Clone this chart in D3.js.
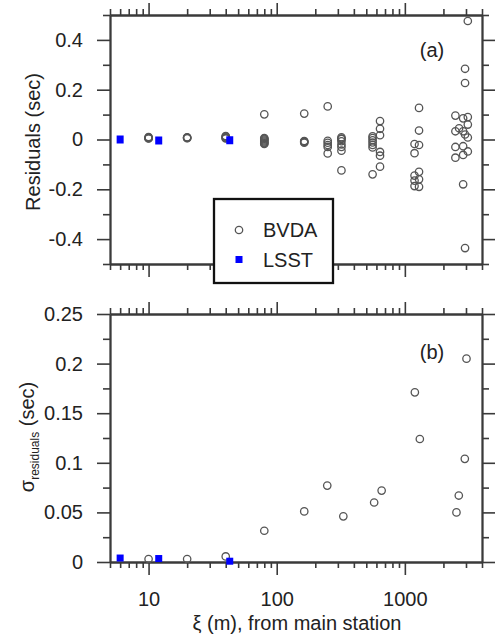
<!DOCTYPE html>
<html>
<head>
<meta charset="utf-8">
<script src="https://cdn.jsdelivr.net/npm/d3@7/dist/d3.min.js"></script>
<style>
  html, body { margin: 0; padding: 0; background: #fff; }
  svg { display: block; }
  text { font-family: "Liberation Sans", Arial, sans-serif; fill: #222; }
</style>
</head>
<body>
<svg id="chart" width="504" height="638"></svg>
<script>
// ---------- DATA ----------
// Panel (a): residuals grouped by station distance (m)
const resStations = [10, 20, 40, 80, 164, 250, 320, 560, 640, 1190, 1290, 2480, 2650, 2850, 2950, 3100];
const resValues = [
  [0.010, 0.008, 0.006, 0.005, 0.004],
  [0.009, 0.008, 0.006, 0.005],
  [0.014, 0.012, 0.009, 0.006, 0.004],
  [0.101, 0.006, 0.003, 0.0, -0.004, -0.008, -0.012, -0.015, -0.018],
  [0.104, -0.006, -0.008, -0.010, -0.013],
  [0.133, -0.005, -0.013, -0.022, -0.030, -0.056],
  [0.009, 0.004, 0.002, -0.007, -0.020, -0.030, -0.045, -0.124],
  [0.013, 0.006, -0.003, -0.012, -0.022, -0.032, -0.140],
  [0.074, 0.043, 0.017, -0.050, -0.065, -0.109],
  [-0.018, -0.055, -0.145, -0.165, -0.187],
  [0.127, 0.036, -0.022, -0.130, -0.160, -0.190],
  [0.096, 0.033, -0.030, -0.073],
  [0.045],
  [0.085, 0.033, -0.027, -0.062, -0.180],
  [0.020, 0.284, 0.227, -0.436],
  [0.476, 0.090, 0.060, 0.008, -0.048]
];
const lsstResDist = [6, 12, 43];
const lsstResValues = [0.0, -0.004, -0.003];

// Panel (b): standard deviation of residuals
const bvdaSigmaDist = [10, 20, 40, 80, 164, 248, 331, 576, 659, 1197, 1309, 2528, 2636, 2937, 3027];
const bvdaSigma = [0.003, 0.003, 0.0056, 0.0315, 0.051, 0.077, 0.046, 0.060, 0.072, 0.171, 0.124, 0.050, 0.067, 0.104, 0.205];
const lsstSigmaDist = [6, 12, 43];
const lsstSigma = [0.004, 0.0035, 0.0008];

// Axis ticks
const xMajor = [10, 100, 1000];
const xMajorLabels = ["10", "100", "1000"];
const xMinor = [5, 6, 7, 8, 9, 20, 30, 40, 50, 60, 70, 80, 90, 200, 300, 400, 500, 600, 700, 800, 900, 2000, 3000, 4000];
const yMajorA = [-0.4, -0.2, 0, 0.2, 0.4];
const yMajorLabelsA = ["-0.4", "-0.2", "0", "0.2", "0.4"];
const yMinorA = [-0.5, -0.3, -0.1, 0.1, 0.3, 0.5];
const yMajorB = [0, 0.05, 0.1, 0.15, 0.2, 0.25];
const yMajorLabelsB = ["0", "0.05", "0.1", "0.15", "0.2", "0.25"];
const yMinorB = [0.025, 0.075, 0.125, 0.175, 0.225];

const legendNames = ["BVDA", "LSST"];

// ---------- LAYOUT ----------
const svg = d3.select("#chart");
const axisColor = "#3a3a3a";
const circleColor = "#555";
const blue = "#0000ff";

const x = d3.scaleLog().domain([5, 4000]).range([110, 482]);
const yA = d3.scaleLinear().domain([-0.5, 0.5]).range([264, 15]);
const yB = d3.scaleLinear().domain([0, 0.25]).range([562, 314]);

function styleAxis(g) {
  g.selectAll("path.domain").attr("stroke", axisColor).attr("stroke-width", 1.8);
  g.selectAll(".tick line").attr("stroke", axisColor).attr("stroke-width", 1.6);
  g.selectAll("text").attr("font-size", 20).attr("fill", "#222")
    .attr("font-family", '"Liberation Sans", Arial, sans-serif');
}

function drawFrame(y, yMajor, yMajorLabels, yMinor, withXLabels) {
  const [y0, y1] = y.range(); // bottom, top
  const gx = svg.append("g");
  // top axis
  gx.append("g").attr("transform", `translate(0,${y1})`)
    .call(d3.axisTop(x).tickValues(xMinor).tickSize(6).tickSizeOuter(0).tickFormat(""))
    .call(styleAxis);
  gx.append("g").attr("transform", `translate(0,${y1})`)
    .call(d3.axisTop(x).tickValues(xMajor).tickSize(12).tickSizeOuter(0).tickFormat(""))
    .call(styleAxis);
  // bottom axis
  gx.append("g").attr("transform", `translate(0,${y0})`)
    .call(d3.axisBottom(x).tickValues(xMinor).tickSize(6).tickSizeOuter(0).tickFormat(""))
    .call(styleAxis);
  gx.append("g").attr("transform", `translate(0,${y0})`)
    .call(d3.axisBottom(x).tickValues(xMajor).tickSize(13).tickSizeOuter(0).tickPadding(17)
      .tickFormat(withXLabels ? (d, i) => xMajorLabels[i] : ""))
    .call(styleAxis);
  const [xl, xr] = x.range();
  // left axis
  gx.append("g").attr("transform", `translate(${xl},0)`)
    .call(d3.axisLeft(y).tickValues(yMinor).tickSize(7).tickSizeOuter(0).tickFormat(""))
    .call(styleAxis);
  gx.append("g").attr("transform", `translate(${xl},0)`)
    .call(d3.axisLeft(y).tickValues(yMajor).tickSize(13).tickSizeOuter(0).tickPadding(14)
      .tickFormat((d, i) => yMajorLabels[i]))
    .call(styleAxis);
  // right axis
  gx.append("g").attr("transform", `translate(${xr},0)`)
    .call(d3.axisRight(y).tickValues(yMinor).tickSize(7).tickSizeOuter(0).tickFormat(""))
    .call(styleAxis);
  gx.append("g").attr("transform", `translate(${xr},0)`)
    .call(d3.axisRight(y).tickValues(yMajor).tickSize(13).tickSizeOuter(0).tickFormat(""))
    .call(styleAxis);
}

drawFrame(yA, yMajorA, yMajorLabelsA, yMinorA, false);
drawFrame(yB, yMajorB, yMajorLabelsB, yMinorB, true);

const R = 3.7, SQ = 7;

// ---------- PANEL (a) points ----------
const resPoints = [];
resStations.forEach((d, i) => resValues[i].forEach(v => resPoints.push({ d, v })));
svg.append("g").selectAll("circle").data(resPoints).join("circle")
  .attr("cx", p => x(p.d)).attr("cy", p => yA(p.v)).attr("r", R)
  .attr("fill", "none").attr("stroke", circleColor).attr("stroke-width", 1.3);
svg.append("g").selectAll("rect").data(lsstResDist).join("rect")
  .attr("x", (d) => x(d) - SQ / 2).attr("y", (d, i) => yA(lsstResValues[i]) - 4)
  .attr("width", SQ).attr("height", 8).attr("fill", blue);

// ---------- PANEL (b) points ----------
svg.append("g").selectAll("circle").data(bvdaSigmaDist).join("circle")
  .attr("cx", d => x(d)).attr("cy", (d, i) => yB(bvdaSigma[i])).attr("r", R)
  .attr("fill", "none").attr("stroke", circleColor).attr("stroke-width", 1.3);
svg.append("g").selectAll("rect").data(lsstSigmaDist).join("rect")
  .attr("x", d => x(d) - SQ / 2).attr("y", (d, i) => yB(lsstSigma[i]) - SQ / 2)
  .attr("width", SQ).attr("height", SQ).attr("fill", blue);

// ---------- Labels ----------
svg.append("text").attr("x", 432).attr("y", 57).attr("text-anchor", "middle")
  .attr("font-size", 20).text("(a)");
svg.append("text").attr("x", 432).attr("y", 359).attr("text-anchor", "middle")
  .attr("font-size", 20).text("(b)");

svg.append("text").attr("transform", "translate(40,142) rotate(-90)")
  .attr("text-anchor", "middle").attr("font-size", 20).text("Residuals (sec)");

const sl = svg.append("text").attr("transform", "translate(34,437) rotate(-90)")
  .attr("text-anchor", "middle").attr("font-size", 20);
sl.append("tspan").text("σ");
sl.append("tspan").attr("font-size", 12).attr("dy", 4.5).text("residuals");
sl.append("tspan").attr("dy", -4.5).text(" (sec)");

svg.append("text").attr("x", 297).attr("y", 630).attr("text-anchor", "middle")
  .attr("font-size", 20).text("ξ (m), from main station");

// ---------- Legend ----------
const lg = svg.append("g");
lg.append("rect").attr("x", 214).attr("y", 199).attr("width", 119).attr("height", 84)
  .attr("fill", "#fff").attr("stroke", "#111").attr("stroke-width", 2.3);
lg.append("circle").attr("cx", 239).attr("cy", 230).attr("r", R)
  .attr("fill", "none").attr("stroke", circleColor).attr("stroke-width", 1.3);
lg.append("rect").attr("x", 239 - SQ / 2).attr("y", 259.5 - SQ / 2).attr("width", SQ).attr("height", SQ)
  .attr("fill", blue);
lg.selectAll("text").data(legendNames).join("text")
  .attr("x", 263).attr("y", (d, i) => 237 + i * 29.5).attr("font-size", 20).text(d => d);
</script>
</body>
</html>
